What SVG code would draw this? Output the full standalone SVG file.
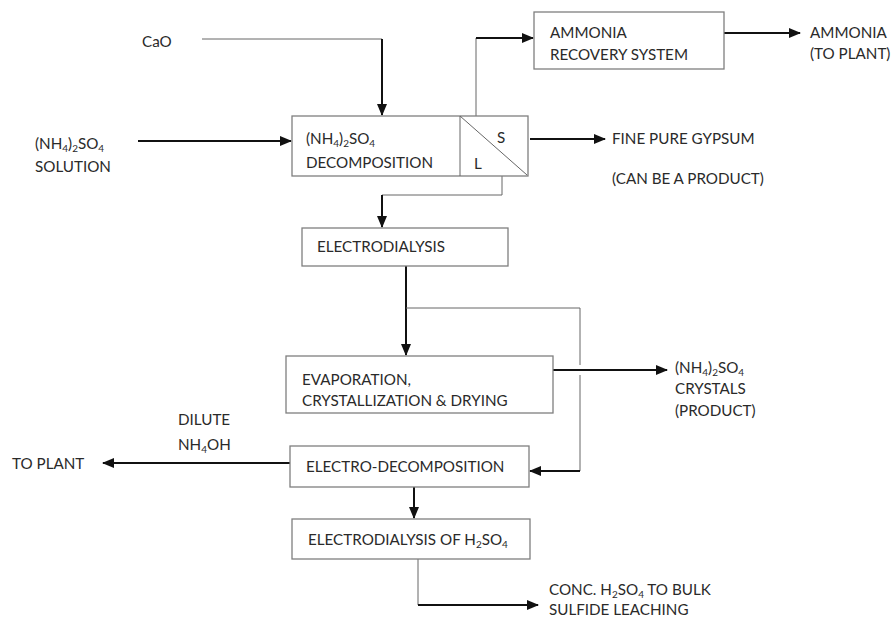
<svg xmlns="http://www.w3.org/2000/svg" width="894" height="620" viewBox="0 0 894 620">
  <style>
    .box { fill: #fff; stroke: #7f7f7f; stroke-width: 1.3; }
    .t { font-family: Lato, "Liberation Sans", sans-serif; font-size: 15.2px; fill: #2a2a2a; }
    .sub { font-size: 10px; }
    .thick { fill: none; stroke: #111; stroke-width: 2; }
    .thin { fill: none; stroke: #666; stroke-width: 1; }
  </style>
  <defs>
    <marker id="arr" markerWidth="12" markerHeight="10" refX="11" refY="5" orient="auto" markerUnits="userSpaceOnUse">
      <path d="M0,0 L12,5 L0,10 Z" fill="#111"/>
    </marker>
  </defs>
  <rect width="894" height="620" fill="#fff"/>

  <g id="connectors">
    <!-- CaO feed -->
    <path class="thin" d="M202,39 H382"/>
    <path class="thick" d="M382,39 V115" marker-end="url(#arr)"/>
    <!-- (NH4)2SO4 solution feed -->
    <path class="thick" d="M138,141 H291" marker-end="url(#arr)"/>
    <!-- gas to ammonia recovery -->
    <path class="thin" d="M476,116 V38"/>
    <path class="thick" d="M476,38 H533" marker-end="url(#arr)"/>
    <!-- ammonia out -->
    <path class="thick" d="M724,33 H800" marker-end="url(#arr)"/>
    <!-- gypsum out -->
    <path class="thick" d="M530,139 H605" marker-end="url(#arr)"/>
    <!-- liquor to electrodialysis -->
    <path class="thin" d="M502,176 V195 H382"/>
    <path class="thick" d="M382,195 V227" marker-end="url(#arr)"/>
    <!-- electrodialysis to evaporation -->
    <path class="thick" d="M406,266 V355" marker-end="url(#arr)"/>
    <!-- bypass to electro-decomposition -->
    <path class="thin" d="M406,308 H580 V365"/>
    <path class="thin" d="M580,375 V471"/>
    <path class="thick" d="M580,471 H530" marker-end="url(#arr)"/>
    <!-- crystals out -->
    <path class="thick" d="M553,370 H667" marker-end="url(#arr)"/>
    <!-- dilute NH4OH to plant -->
    <path class="thick" d="M290,463 H103" marker-end="url(#arr)"/>
    <!-- to H2SO4 electrodialysis -->
    <path class="thick" d="M414,487 V518" marker-end="url(#arr)"/>
    <!-- conc. acid out -->
    <path class="thin" d="M418,559 V605"/>
    <path class="thick" d="M418,605 H538" marker-end="url(#arr)"/>
  </g>

  <g id="decomposition">
    <rect class="box" x="292" y="116" width="236" height="60"/>
    <path class="thin" d="M460,116 V176 M460,116 L527,175"/>
    <text class="t" x="306" y="144">(NH<tspan class="sub" dy="3">4</tspan><tspan dy="-3">)</tspan><tspan class="sub" dy="3">2</tspan><tspan dy="-3">SO</tspan><tspan class="sub" dy="3">4</tspan></text>
    <text class="t" x="306" y="168">DECOMPOSITION</text>
    <text class="t" x="497" y="143">S</text>
    <text class="t" x="474" y="169">L</text>
  </g>

  <g id="ammonia-recovery">
    <rect class="box" x="534" y="12" width="190" height="57"/>
    <text class="t" x="550" y="38">AMMONIA</text>
    <text class="t" x="550" y="60">RECOVERY SYSTEM</text>
  </g>

  <g id="electrodialysis">
    <rect class="box" x="302" y="228" width="206" height="38"/>
    <text class="t" x="317" y="252">ELECTRODIALYSIS</text>
  </g>

  <g id="evaporation">
    <rect class="box" x="286" y="356" width="267" height="57"/>
    <text class="t" x="302" y="385">EVAPORATION,</text>
    <text class="t" x="302" y="406">CRYSTALLIZATION &amp; DRYING</text>
  </g>

  <g id="electro-decomposition">
    <rect class="box" x="290" y="446" width="239" height="41"/>
    <text class="t" x="306" y="472">ELECTRO-DECOMPOSITION</text>
  </g>

  <g id="electrodialysis-h2so4">
    <rect class="box" x="292" y="519" width="238" height="40"/>
    <text class="t" x="308" y="545">ELECTRODIALYSIS OF H<tspan class="sub" dy="3">2</tspan><tspan dy="-3">SO</tspan><tspan class="sub" dy="3">4</tspan></text>
  </g>

  <g id="labels">
    <text class="t" x="142" y="47">CaO</text>
    <text class="t" x="35" y="149">(NH<tspan class="sub" dy="3">4</tspan><tspan dy="-3">)</tspan><tspan class="sub" dy="3">2</tspan><tspan dy="-3">SO</tspan><tspan class="sub" dy="3">4</tspan></text>
    <text class="t" x="35" y="172">SOLUTION</text>
    <text class="t" x="810" y="38">AMMONIA</text>
    <text class="t" x="810" y="59">(TO PLANT)</text>
    <text class="t" x="612" y="144">FINE PURE GYPSUM</text>
    <text class="t" x="612" y="184">(CAN BE A PRODUCT)</text>
    <text class="t" x="675" y="373">(NH<tspan class="sub" dy="3">4</tspan><tspan dy="-3">)</tspan><tspan class="sub" dy="3">2</tspan><tspan dy="-3">SO</tspan><tspan class="sub" dy="3">4</tspan></text>
    <text class="t" x="675" y="394">CRYSTALS</text>
    <text class="t" x="675" y="416">(PRODUCT)</text>
    <text class="t" x="178" y="425">DILUTE</text>
    <text class="t" x="178" y="450">NH<tspan class="sub" dy="3">4</tspan><tspan dy="-3">OH</tspan></text>
    <text class="t" x="12" y="469">TO PLANT</text>
    <text class="t" x="549" y="595">CONC. H<tspan class="sub" dy="3">2</tspan><tspan dy="-3">SO</tspan><tspan class="sub" dy="3">4</tspan><tspan dy="-3"> TO BULK</tspan></text>
    <text class="t" x="549" y="615">SULFIDE LEACHING</text>
  </g>
</svg>
